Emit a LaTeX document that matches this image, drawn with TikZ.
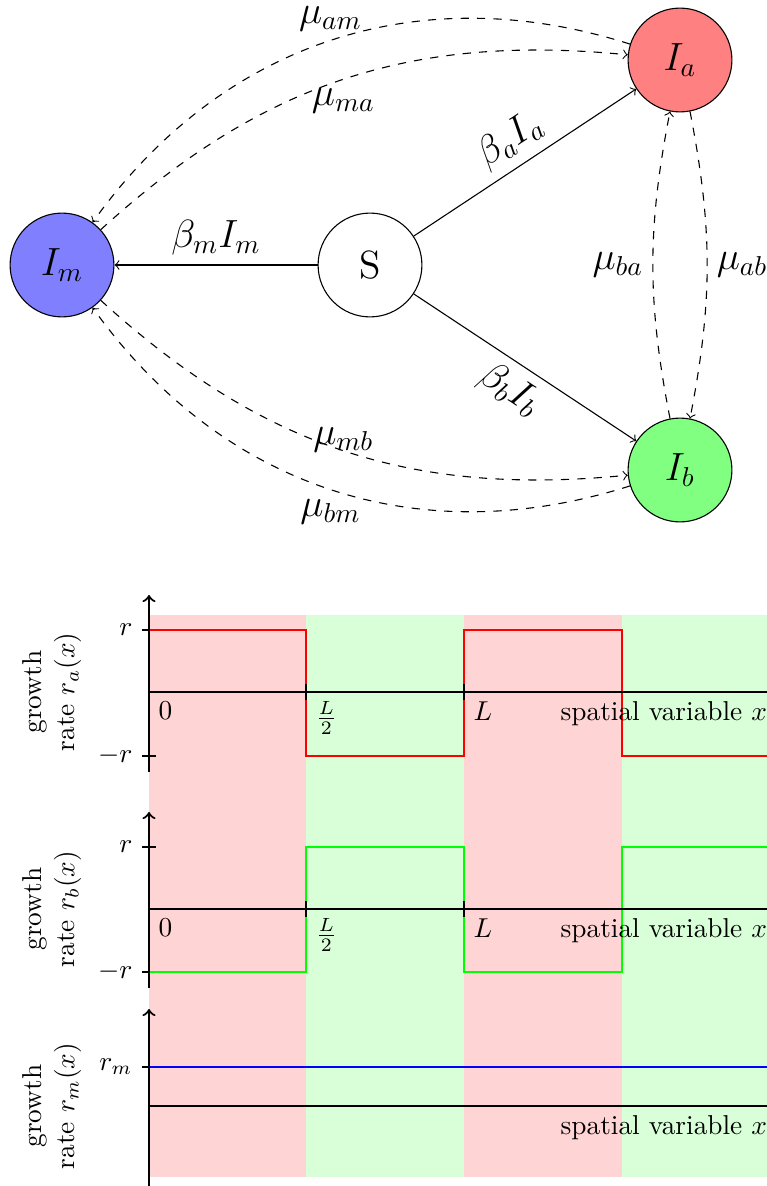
\documentclass[tikz,border=0pt]{standalone}
\begin{document}
\begin{tikzpicture}[x=0.366pt,y=0.366pt,
  st/.style={circle,draw,minimum size=38pt,inner sep=0pt,font=\Large},
  lab/.style={font=\Large},
  ax/.style={thick},
  mu/.style={->,dashed},
  ylab/.style={rotate=90,align=center}]
\clip (0,0) rectangle (767,-1186);
% ---------- top diagram ----------
\node[st,fill=blue!50] (Im) at (62,-265) {$I_m$};
\node[st] (S) at (370,-265) {S};
\node[st,fill=red!50] (Ia) at (680,-60) {$I_a$};
\node[st,fill=green!50] (Ib) at (680,-470) {$I_b$};
\draw[->] (S) -- node[lab,above] (lbm) {$\beta_m I_m$} (Im);
\draw[->] (S) -- node[lab,above,sloped] (lba) {$\beta_a I_a$} (Ia);
\draw[->] (S) -- node[lab,below,sloped] (lbb) {$\beta_b I_b$} (Ib);
\draw[mu] (Ia) to[bend right=36] node[lab,above] (lam) {$\mu_{am}$} (Im);
\draw[mu] (Im) to[bend left=24] node[lab,below] (lma) {$\mu_{ma}$} (Ia);
\draw[mu] (Ib) to[bend left=36] node[lab,below] (lbmm) {$\mu_{bm}$} (Im);
\draw[mu] (Im) to[bend right=24] node[lab,above,yshift=-4] (lmb) {$\mu_{mb}$} (Ib);
\draw[mu] (Ib) to[bend left=11] node[lab,left] (lbaa) {$\mu_{ba}$} (Ia);
\draw[mu] (Ia) to[bend left=11] node[lab,right] (lab) {$\mu_{ab}$} (Ib);
% ---------- background strips ----------
\fill[red!17] (149,-615) rectangle (306,-1177);
\fill[green!15] (306,-615) rectangle (464,-1177);
\fill[red!17] (464,-615) rectangle (622,-1177);
\fill[green!15] (622,-615) rectangle (800,-1177);
% ---------- panel a ----------
\draw[ax] (142,-630) -- (156,-630);
\draw[ax] (142,-756) -- (156,-756);
\node[left] (ra1) at (142,-630) {$r$};
\node[left] (ra2) at (142,-756) {$-r$};
\draw[thick,red] (149,-630) -- (306,-630) -- (306,-756) -- (464,-756) -- (464,-630) -- (622,-630) -- (622,-756) -- (800,-756);
\draw[ax] (149,-692) -- (800,-692);
\draw[ax] (306,-684) -- (306,-700);
\draw[ax] (464,-684) -- (464,-700);
\draw[ax,->] (149,-772) -- (149,-595);
\node[below right] (a0) at (149,-692) {$0$};
\node[below right] (a1) at (306,-692) {$\frac{L}{2}$};
\node[below right] (a2) at (464,-692) {$L$};
\node[below right] (a3) at (551,-692) {spatial variable $x$};
\node[ylab] (ya) at (52,-692) {growth\\rate $r_a(x)$};
% ---------- panel b ----------
\draw[ax] (142,-847) -- (156,-847);
\draw[ax] (142,-972) -- (156,-972);
\node[left] (rb1) at (142,-847) {$r$};
\node[left] (rb2) at (142,-972) {$-r$};
\draw[thick,green] (149,-972) -- (306,-972) -- (306,-847) -- (464,-847) -- (464,-972) -- (622,-972) -- (622,-847) -- (800,-847);
\draw[ax] (149,-909) -- (800,-909);
\draw[ax] (306,-901) -- (306,-917);
\draw[ax] (464,-901) -- (464,-917);
\draw[ax,->] (149,-988) -- (149,-812);
\node[below right] (b0) at (149,-909) {$0$};
\node[below right] (b1) at (306,-909) {$\frac{L}{2}$};
\node[below right] (b2) at (464,-909) {$L$};
\node[below right] (b3) at (551,-909) {spatial variable $x$};
\node[ylab] (yb) at (52,-909) {growth\\rate $r_b(x)$};
% ---------- panel m ----------
\draw[ax] (142,-1067) -- (156,-1067);
\node[left] (rm1) at (142,-1067) {$r_m$};
\draw[thick,blue] (149,-1067) -- (800,-1067);
\draw[ax] (149,-1106) -- (800,-1106);
\draw[ax,->] (149,-1200) -- (149,-1009);
\node[below right] (m3) at (551,-1106) {spatial variable $x$};
\node[ylab] (ym) at (52,-1106) {growth\\rate $r_m(x)$};
\end{tikzpicture}
\end{document}
